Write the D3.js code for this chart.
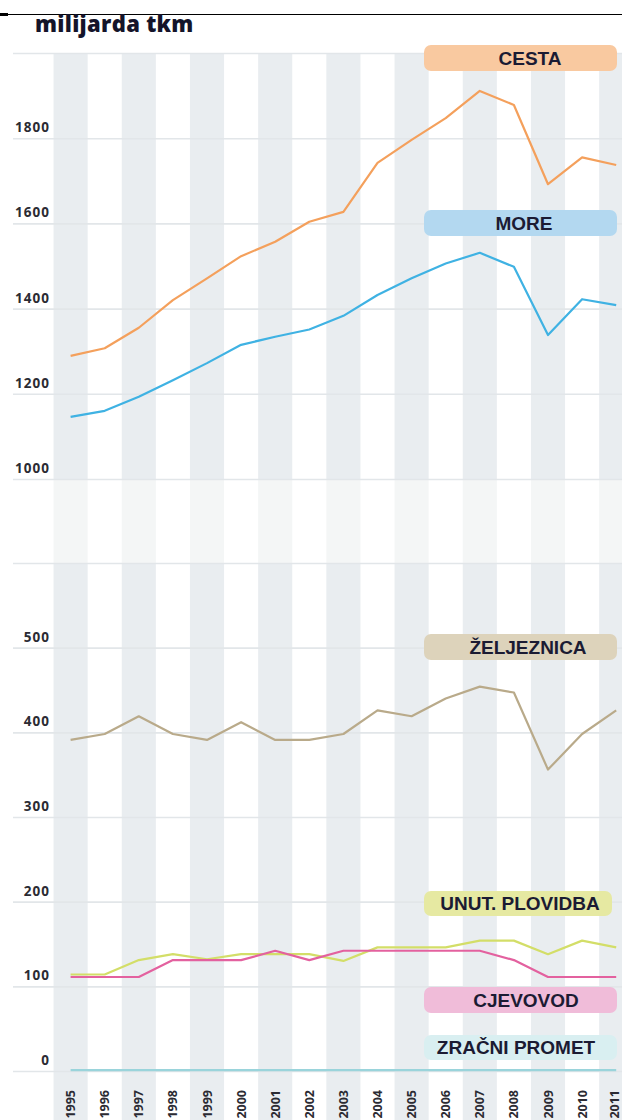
<!DOCTYPE html>
<html>
<head>
<meta charset="utf-8">
<script src="https://cdn.jsdelivr.net/npm/d3@7"></script>
<style>
html,body{margin:0;padding:0;background:#fff;}
svg{display:block;}
</style>
</head>
<body>
<script>
const years = [1995,1996,1997,1998,1999,2000,2001,2002,2003,2004,2005,2006,2007,2008,2009,2010,2011];
const cesta = [1289,1307,1355,1420,1471,1523,1557,1604,1627,1742,1796,1847,1911,1878,1692,1755,1737];
const more = [1146,1160,1193,1232,1272,1315,1334,1351,1383,1432,1471,1506,1531,1498,1338,1422,1408];
const zeljeznica = [391,398,419,398,391,412,391,391,398,426,419,440,454,447,356,398,426];
const plovidba = [114,114,131,138,132,138,138,138,130,146,146,146,154,154,138,154,146];
const cjevovod = [111,111,111,131,131,131,142,131,142,142,142,142,142,131,111,111,111];
const zracni = [1,1,1,1,1,1,1,1,1,1,1,1,1,1,1,1,1];
const topTicks = [1000,1200,1400,1600,1800,2000];
const topTickLabels = ["1000","1200","1400","1600","1800",""];
const botTicks = [0,100,200,300,400,500,600];
const botTickLabels = ["0","100","200","300","400","500",""];
const seriesNames = ["CESTA","MORE","ŽELJEZNICA","UNUT. PLOVIDBA","CJEVOVOD","ZRAČNI PROMET"];

const W = 622, H = 1120;
const svg = d3.select("body").append("svg").attr("width", W).attr("height", H);

const x = d3.scaleLinear().domain([1995, 2011]).range([70.6, 616.2]);
const band = 34.1;
const yTop = d3.scaleLinear().domain([1000, 2000]).range([479, 53]);
const yBot = d3.scaleLinear().domain([0, 600]).range([1071, 563]);

// top rule
svg.append("line").attr("x1",0).attr("x2",W).attr("y1",14.5).attr("y2",14.5).attr("stroke","#000").attr("stroke-width",1);
svg.append("rect").attr("x",0).attr("y",13).attr("width",8).attr("height",3).attr("fill","#000");

// title
svg.append("text").attr("x",35).attr("y",32)
  .attr("font-family","'Open Sans', sans-serif").attr("font-weight",800)
  .attr("font-size",22).attr("letter-spacing",0.3).attr("fill","#14142a")
  .text("milijarda tkm");

// stripes
const stripeYears = years.filter((d,i) => i % 2 === 0);
const segs = [
  {y0: yTop(2000), y1: yTop(1000), c: "#e9edf0"},
  {y0: yTop(1000), y1: yBot(600), c: "#f4f6f6"},
  {y0: yBot(600), y1: H, c: "#e9edf0"}
];
segs.forEach(s => {
  svg.append("g").selectAll("rect").data(stripeYears).join("rect")
    .attr("x", d => x(d) - band/2)
    .attr("width", band)
    .attr("y", s.y0).attr("height", s.y1 - s.y0)
    .attr("fill", s.c);
});

// axes with gridlines
function styleAxis(g) {
  g.select(".domain").remove();
  g.selectAll(".tick line").attr("stroke","#e2e6e9").attr("stroke-width",1.6);
  g.selectAll(".tick text")
    .attr("x", 37).attr("dy", -6.5)
    .attr("text-anchor","end")
    .attr("font-family","'Open Sans', sans-serif").attr("font-weight",700)
    .attr("font-size",13.5).attr("letter-spacing",1).attr("fill","#2b2b33");
}
const gTop = svg.append("g").attr("transform","translate(13,0)")
  .call(d3.axisRight(yTop).tickValues(topTicks).tickSize(W-13)
    .tickFormat((d,i) => topTickLabels[i]));
styleAxis(gTop);
const gBot = svg.append("g").attr("transform","translate(13,0)")
  .call(d3.axisRight(yBot).tickValues(botTicks).tickSize(W-13)
    .tickFormat((d,i) => botTickLabels[i]));
styleAxis(gBot);

// year labels
svg.append("g").selectAll("text").data(years).join("text")
  .attr("transform", d => `translate(${Math.min(x(d), 614.5)},1090) rotate(-90)`)
  .attr("dy","0.36em").attr("text-anchor","end")
  .attr("font-family","'Open Sans', sans-serif").attr("font-weight",700)
  .attr("font-size",12.5).attr("fill","#2b2b33")
  .text(d => d);

// lines
const series = [
  {vals: cesta, y: yTop, c: "#f4a05c"},
  {vals: more, y: yTop, c: "#3fb2e3"},
  {vals: zeljeznica, y: yBot, c: "#b9aa8a"},
  {vals: plovidba, y: yBot, c: "#d3de68"},
  {vals: cjevovod, y: yBot, c: "#e3619f"},
  {vals: zracni, y: yBot, c: "#9ad4db"}
];
series.forEach(s => {
  const line = d3.line().x((d,i) => x(years[i])).y(d => s.y(d));
  svg.append("path").datum(s.vals).attr("d", line)
    .attr("fill","none").attr("stroke", s.c).attr("stroke-width",2.2)
    .attr("stroke-linejoin","round");
});

// label boxes
const boxes = [
  {name: seriesNames[0], y0: 45, y1: 71, x1: 617, tx: 530, fill: "#f9c9a0"},
  {name: seriesNames[1], y0: 210, y1: 236, x1: 617, tx: 524, fill: "#b3d8f0"},
  {name: seriesNames[2], y0: 634, y1: 660, x1: 617, tx: 528, fill: "#ddd3bb"},
  {name: seriesNames[3], y0: 891, y1: 916, x1: 612, tx: 520, fill: "#e6e9a2"},
  {name: seriesNames[4], y0: 987, y1: 1013, x1: 617, tx: 526, fill: "#f0bcd9"},
  {name: seriesNames[5], y0: 1035, y1: 1060, x1: 617, tx: 516, fill: "#d9eff1"}
];
const bg = svg.append("g");
boxes.forEach(b => {
  bg.append("rect").attr("x",424).attr("y",b.y0).attr("width",b.x1-424).attr("height",b.y1-b.y0)
    .attr("rx",7).attr("fill",b.fill);
  bg.append("text").attr("x",b.tx).attr("y",(b.y0+b.y1)/2).attr("dy","0.36em")
    .attr("text-anchor","middle")
    .attr("font-family","'Liberation Sans', Arial, sans-serif").attr("font-weight",700)
    .attr("font-size",19).attr("fill","#1b1b33")
    .text(b.name);
});
</script>
</body>
</html>
